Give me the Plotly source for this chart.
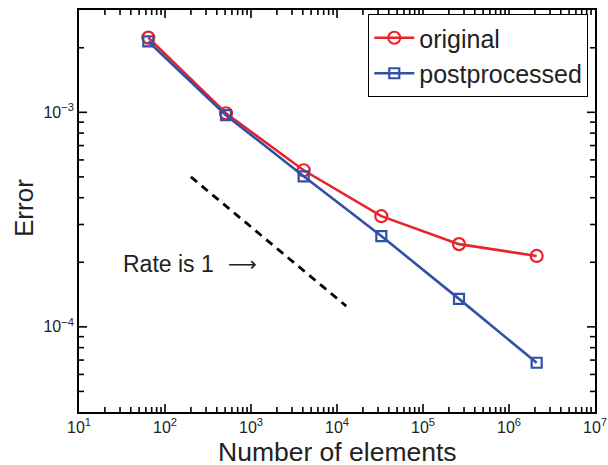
import plotly.graph_objects as go

# Mesh sizes (number of elements) and measured errors
n_elements = [64, 512, 4096, 32768, 262144, 2097152]
err_original = [2.23e-3, 9.9e-4, 5.37e-4, 3.28e-4, 2.43e-4, 2.14e-4]
err_post = [2.14e-3, 9.7e-4, 5.03e-4, 2.65e-4, 1.35e-4, 6.8e-5]

# Reference slope line (error ~ N^(-1/3), i.e. rate 1 in h)
ref_x = [200, 12800]
ref_y = [5.0e-4, 1.25e-4]

# Decade ticks
x_exponents = [1, 2, 3, 4, 5, 6, 7]
y_exponents = [-4, -3]

X_RANGE = [1, 7]
Y_RANGE = [-4.397, -2.523]

W, H = 608, 465
MARGIN = dict(l=79, r=13, t=10, b=53)
PLOT_W = W - MARGIN["l"] - MARGIN["r"]
PLOT_H = H - MARGIN["t"] - MARGIN["b"]

RED = "#e8232b"
BLUE = "#3350a6"
FONT = "Liberation Sans, Arial, Helvetica, sans-serif"
TXT = "#222"


def decade_ticks(exps):
    vals = [10.0 ** e for e in exps]
    text = ["10<sup>%s</sup>" % (str(e).replace("-", "\u2212")) for e in exps]
    return vals, text


def minor_ticks(lo, hi, vmin, vmax):
    out = []
    for e in range(lo, hi):
        for m in range(2, 10):
            v = m * 10.0 ** e
            if vmin < v < vmax:
                out.append(v)
    return out


fig = go.Figure()
fig.add_trace(go.Scatter(
    x=ref_x, y=ref_y, mode="lines", showlegend=False,
    line=dict(color="black", width=2.8, dash="8px,6px"),
))
fig.add_trace(go.Scatter(
    x=n_elements, y=err_original, mode="lines+markers", name="original",
    line=dict(color=RED, width=2.6),
    marker=dict(symbol="circle-open", size=12, color=RED, line=dict(width=2.2)),
))
fig.add_trace(go.Scatter(
    x=n_elements, y=err_post, mode="lines+markers", name="postprocessed",
    line=dict(color=BLUE, width=2.6),
    marker=dict(symbol="square-open", size=10, color=BLUE, line=dict(width=2.2)),
))

xv, xt = decade_ticks(x_exponents)
yv, yt = decade_ticks(y_exponents)

# Inside tick marks on all four sides, drawn as short segments whose length
# is converted from pixels into log-axis units.
x_lo, x_hi = 10.0 ** X_RANGE[0], 10.0 ** X_RANGE[1]
y_lo, y_hi = 10.0 ** Y_RANGE[0], 10.0 ** Y_RANGE[1]
x_dec_px = PLOT_W / (X_RANGE[1] - X_RANGE[0])
y_dec_px = PLOT_H / (Y_RANGE[1] - Y_RANGE[0])

x_major = [v for v in xv if x_lo < v < x_hi]
y_major = [v for v in yv if y_lo < v < y_hi]
x_minor = minor_ticks(1, 7, x_lo, x_hi)
y_minor = minor_ticks(-5, -2, y_lo, y_hi)

tx, ty = [], []
for vals, length in ((x_major, 8), (x_minor, 5)):
    f = 10.0 ** (length / y_dec_px)
    for v in vals:
        tx += [v, v, None, v, v, None]
        ty += [y_lo, y_lo * f, None, y_hi, y_hi / f, None]
for vals, length in ((y_major, 8), (y_minor, 5)):
    f = 10.0 ** (length / x_dec_px)
    for v in vals:
        tx += [x_lo, x_lo * f, None, x_hi, x_hi / f, None]
        ty += [v, v, None, v, v, None]

fig.add_trace(go.Scatter(
    x=tx, y=ty, mode="lines", showlegend=False, hoverinfo="skip",
    line=dict(color="black", width=1.6), connectgaps=False, cliponaxis=False,
))

base = dict(
    type="log", automargin=False, showgrid=False, zeroline=False,
    showline=True, linecolor="black", linewidth=1.6, mirror=True,
    ticks="", tickmode="array",
    tickfont=dict(family=FONT, size=16, color=TXT),
)

fig.update_layout(
    xaxis=dict(**base, range=X_RANGE, tickvals=xv, ticktext=xt),
    yaxis=dict(**base, range=Y_RANGE, tickvals=yv, ticktext=yt),
)

# Axis titles
fig.add_annotation(
    x=0.5, y=-0.1, xref="paper", yref="paper", xanchor="center", yanchor="middle",
    text="Number of elements", showarrow=False,
    font=dict(family=FONT, size=26.5, color=TXT),
)
fig.add_annotation(
    x=-0.107, y=0.507, xref="paper", yref="paper", xanchor="center", yanchor="middle",
    text="Error", showarrow=False, textangle=-90,
    font=dict(family=FONT, size=26, color=TXT),
)

fig.add_annotation(
    x=1.49, y=-3.707, xref="x", yref="y", xanchor="left", yanchor="middle",
    text="Rate is 1", showarrow=False,
    font=dict(family=FONT, size=23, color=TXT),
)
fig.add_annotation(
    x=2.71, y=-3.707, xref="x", yref="y", xanchor="left", yanchor="middle",
    text="\u27f6", showarrow=False,
    font=dict(family="DejaVu Sans", size=20, color=TXT),
)

fig.update_layout(
    width=W, height=H,
    margin=MARGIN,
    paper_bgcolor="white", plot_bgcolor="white",
    legend=dict(
        x=0.987, y=0.99, xanchor="right", yanchor="top",
        bgcolor="white", bordercolor="black", borderwidth=1,
        font=dict(family=FONT, size=25, color=TXT),
        itemwidth=40, tracegroupgap=0,
    ),
)

fig.write_html("out.html")
